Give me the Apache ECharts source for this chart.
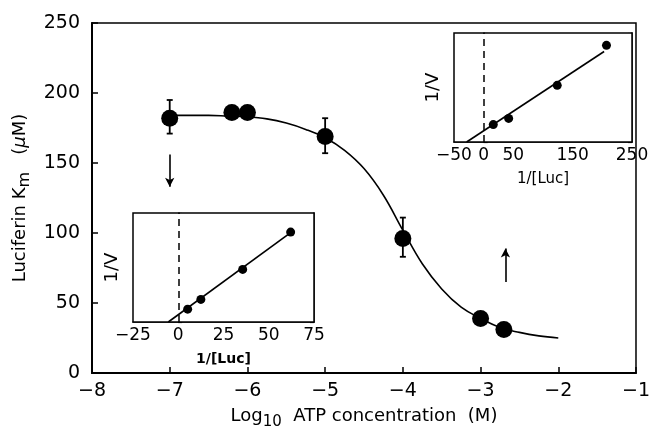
<!DOCTYPE html>
<html>
<head>
<meta charset="utf-8">
<script src="https://cdn.jsdelivr.net/npm/echarts@6/dist/echarts.min.js"></script>
<style>
  html, body { margin: 0; padding: 0; background: #fff; }
  #chart { width: 653px; height: 435px; }
</style>
</head>
<body>
<div id="chart"></div>
<script>
// ===== main panel: Km vs log ATP =====
const kmX = [-7, -6.2, -6, -5, -4, -3, -2.7];
const kmY = [182, 186, 186, 169, 96, 39, 31];

// error bars (only where visible)
const errX = [-7, -5, -4];
const errLow = [171, 157, 83];
const errHigh = [195, 182, 111];

// fitted curve
const fitX = [-7, -6.75, -6.5, -6.25, -6, -5.75, -5.5, -5.25, -5, -4.75, -4.5, -4.25, -4, -3.75, -3.5, -3.25, -3, -2.75, -2.5, -2.25, -2];
const fitY = [184, 184, 184, 183.5, 183, 181.5, 178.5, 174, 168, 159, 146, 127, 102, 78, 60, 47, 39, 32.5, 29, 26.5, 25];

// arrows [x, from y, to y]
const arrows = [[-7, 156, 133], [-2.68, 65, 89]];

// ===== left inset (low ATP) =====
const lowX = [5.2, 12.5, 35.6, 62.1];
const lowY = [0.47, 0.83, 1.93, 3.3];
const lowFitX = [-5.5, 62.1];
const lowFitY = [0, 3.28];

// ===== right inset (high ATP) =====
const highX = [16.2, 42.1, 124, 207];
const highY = [0.48, 0.65, 1.56, 2.66];
const highFitX = [-28.7, 203];
const highFitY = [0, 2.49];

const zip = (a, b) => a.map((v, i) => [v, b[i]]);
const minus = v => (v < 0 ? '\u2212' + Math.abs(v) : String(v));
const FONT = 'DejaVu Sans';

const chart = echarts.init(document.getElementById('chart'));

const insetX = (grid, min, max, step, hide, bold) => ({
  gridIndex: grid, type: 'value', min: min, max: max, interval: step,
  axisLine: { show: true, lineStyle: { color: '#000', width: 1.5 } },
  axisTick: { show: false },
  splitLine: { show: false },
  axisLabel: {
    color: '#000', fontFamily: FONT, fontSize: 17, margin: 5,
    formatter: v => (hide.indexOf(v) >= 0 ? '' : minus(v))
  },
  name: '1/[Luc]', nameLocation: 'middle', nameGap: 30,
  nameTextStyle: { color: '#000', fontFamily: FONT, fontSize: bold ? 14 : 15, fontWeight: bold ? 'bold' : 'normal' }
});

const insetY = (grid, max, pos, withName) => ({
  gridIndex: grid, type: 'value', min: 0, max: max, interval: 1, position: pos,
  axisLine: { show: true, lineStyle: { color: '#000', width: 1.5 } },
  axisTick: { show: true, inside: true, length: 4, lineStyle: { color: '#000', width: 1.2 } },
  splitLine: { show: false },
  axisLabel: { show: false },
  name: withName ? '1/V' : '', nameLocation: 'middle', nameGap: 12,
  nameTextStyle: { color: '#000', fontFamily: FONT, fontSize: 18 }
});

const dashedZero = {
  silent: true, symbol: 'none', label: { show: false },
  lineStyle: { color: '#000', width: 1.5, type: [7, 5] },
  data: [{ xAxis: 0 }]
};

const option = {
  animation: false,
  backgroundColor: '#fff',
  grid: [
    { left: 92, top: 23, right: 2, bottom: 62, show: true, borderColor: '#000', borderWidth: 1.5 },
    { left: 133, top: 213, width: 181, height: 109, show: true, backgroundColor: '#fff', borderColor: '#000', borderWidth: 1.5, z: 5 },
    { left: 454, top: 33, width: 178, height: 109, show: true, backgroundColor: '#fff', borderColor: '#000', borderWidth: 1.5, z: 5 }
  ],
  xAxis: [
    {
      gridIndex: 0, type: 'value', min: -8, max: -1, interval: 1,
      axisLine: { show: true, lineStyle: { color: '#000', width: 2 } },
      axisTick: { show: true, inside: true, length: 6, lineStyle: { color: '#000', width: 1.5 } },
      splitLine: { show: false },
      axisLabel: { color: '#000', fontFamily: FONT, fontSize: 19, margin: 9, formatter: minus },
      name: '{a|Log}{s|10}{a|  ATP concentration  (M)}',
      nameLocation: 'middle', nameGap: 30,
      nameTextStyle: {
        rich: {
          a: { color: '#000', fontFamily: FONT, fontSize: 18 },
          s: { color: '#000', fontFamily: FONT, fontSize: 15, padding: [12, 0, 0, 0] }
        }
      }
    },
    insetX(1, -25, 75, 25, [], true),
    insetX(2, -50, 250, 50, [100, 200], false)
  ],
  yAxis: [
    {
      gridIndex: 0, type: 'value', min: 0, max: 250, interval: 50,
      axisLine: { show: true, lineStyle: { color: '#000', width: 2 } },
      axisTick: { show: true, inside: true, length: 6, lineStyle: { color: '#000', width: 1.5 } },
      splitLine: { show: false },
      axisLabel: { color: '#000', fontFamily: FONT, fontSize: 19, margin: 12 },
      name: '{a|Luciferin K}{s|m}{a|   (}{u|\u03bc}{a|M)}',
      nameLocation: 'middle', nameGap: 54,
      nameTextStyle: {
        rich: {
          a: { color: '#000', fontFamily: FONT, fontSize: 18 },
          s: { color: '#000', fontFamily: FONT, fontSize: 16, padding: [10, 0, 0, 0] },
          u: { color: '#000', fontFamily: FONT, fontSize: 18, fontStyle: 'italic' }
        }
      }
    },
    insetY(1, 4, 'left', true),
    insetY(2, 3, 'left', true),
    insetY(1, 4, 'right', false),
    insetY(2, 3, 'right', false)
  ],
  series: [
    {
      // fitted curve
      type: 'line', xAxisIndex: 0, yAxisIndex: 0,
      data: zip(fitX, fitY), smooth: 0.4, showSymbol: false, silent: true,
      lineStyle: { color: '#000', width: 1.6 }, z: 2
    },
    {
      // error bars with small caps
      type: 'custom', xAxisIndex: 0, yAxisIndex: 0, silent: true, z: 3,
      data: errX.map((x, i) => [x, errLow[i], errHigh[i]]),
      renderItem: (params, api) => {
        const lo = api.coord([api.value(0), api.value(1)]);
        const hi = api.coord([api.value(0), api.value(2)]);
        const st = { stroke: '#000', lineWidth: 1.8 };
        return {
          type: 'group',
          children: [
            { type: 'line', shape: { x1: lo[0], y1: lo[1], x2: hi[0], y2: hi[1] }, style: st },
            { type: 'line', shape: { x1: lo[0] - 3, y1: lo[1], x2: lo[0] + 3, y2: lo[1] }, style: st },
            { type: 'line', shape: { x1: hi[0] - 3, y1: hi[1], x2: hi[0] + 3, y2: hi[1] }, style: st }
          ]
        };
      }
    },
    {
      type: 'scatter', xAxisIndex: 0, yAxisIndex: 0,
      data: zip(kmX, kmY), symbolSize: 17, itemStyle: { color: '#000', opacity: 1 }, z: 4,
      markLine: {
        silent: true, symbol: ['none', 'arrow'], symbolSize: [7, 9],
        label: { show: false },
        lineStyle: { color: '#000', width: 1.6, type: 'solid', opacity: 1 },
        data: arrows.map(a => [{ coord: [a[0], a[1]] }, { coord: [a[0], a[2]] }])
      }
    },
    // left inset
    {
      type: 'line', xAxisIndex: 1, yAxisIndex: 1, data: zip(lowFitX, lowFitY),
      showSymbol: false, silent: true, lineStyle: { color: '#000', width: 1.6 }, z: 6,
      markLine: dashedZero
    },
    {
      type: 'scatter', xAxisIndex: 1, yAxisIndex: 1, data: zip(lowX, lowY),
      symbolSize: 9, itemStyle: { color: '#000', opacity: 1 }, z: 7
    },
    // right inset
    {
      type: 'line', xAxisIndex: 2, yAxisIndex: 2, data: zip(highFitX, highFitY),
      showSymbol: false, silent: true, lineStyle: { color: '#000', width: 1.6 }, z: 6,
      markLine: dashedZero
    },
    {
      type: 'scatter', xAxisIndex: 2, yAxisIndex: 2, data: zip(highX, highY),
      symbolSize: 9, itemStyle: { color: '#000', opacity: 1 }, z: 7
    }
  ]
};

chart.setOption(option);
window.addEventListener('resize', () => chart.resize());
</script>
</body>
</html>
